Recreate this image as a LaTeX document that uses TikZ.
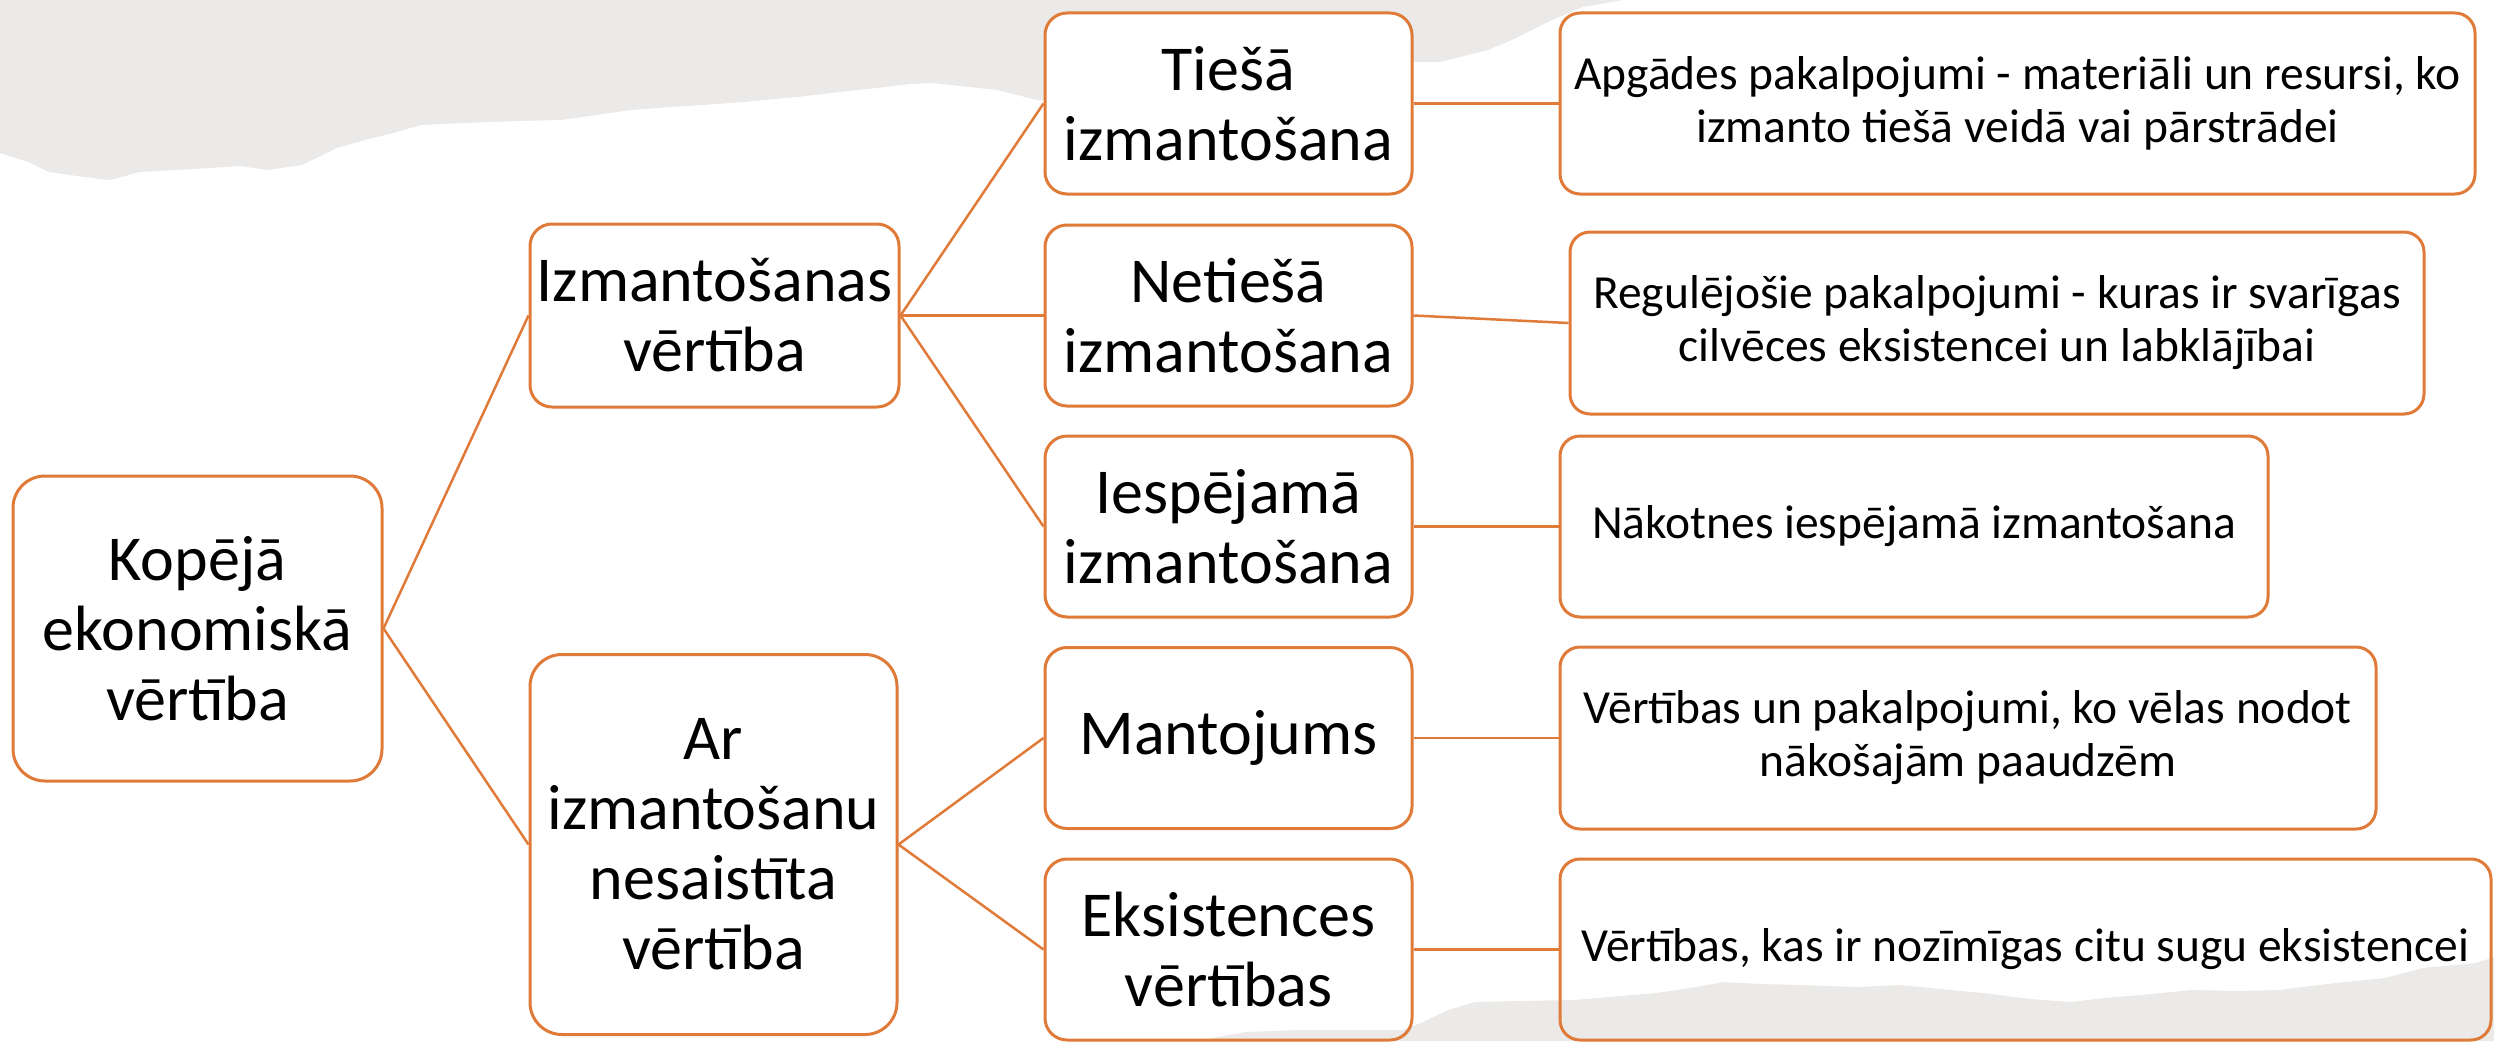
\documentclass[tikz,border=0pt]{standalone}
\usepackage{fontspec}
\setmainfont{Carlito}
\definecolor{org}{HTML}{E07A38}
\definecolor{paper}{HTML}{EBEAE8}
\tikzset{
  boxbase/.style={draw=org, line width=3pt, inner sep=0pt, align=center, text=black, anchor=center},
  bigbox/.style={boxbase, rounded corners=32pt, font=\fontsize{64}{70}\selectfont},
  midbox/.style={boxbase, rounded corners=22pt, font=\fontsize{64}{70}\selectfont},
  smallbox/.style={boxbase, rounded corners=20pt, font=\fontsize{47.5}{53}\selectfont},
  link/.style={draw=org, line width=2.5pt},
}
\begin{document}
\begin{tikzpicture}[x=1pt,y=-1pt]
\useasboundingbox (0,0) rectangle (2494,1041);
% background paper shapes
\fill[paper] (0,0) -- (0,153) -- (28,162) -- (49,172) -- (84,177) -- (110,180) -- (140,172) -- (175,170) -- (210,168) -- (240,166) -- (267,170) -- (302,165) -- (337,148) -- (365,140) -- (393,133) -- (421,125) -- (463,123) -- (520,121) -- (561,120) -- (596,115) -- (631,110) -- (670,107) -- (702,105) -- (744,102) -- (797,97) -- (840,92) -- (877,88) -- (910,84) -- (933,83) -- (960,86) -- (997,90) -- (1037,100) -- (1045,100) -- (1412,62) -- (1440,62) -- (1488,50) -- (1512,40) -- (1552,20) -- (1583,7) -- (1623,0) -- cycle;
\fill[paper] (1180,1041) -- (1207,1039) -- (1245,1032) -- (1298,1030) -- (1402,1030) -- (1421,1023) -- (1448,1010) -- (1475,1002) -- (1520,1001) -- (1574,1000) -- (1620,996) -- (1657,993) -- (1690,988) -- (1724,982) -- (1760,984) -- (1800,985) -- (1858,987) -- (1900,985) -- (1940,989) -- (1983,993) -- (2030,999) -- (2070,1002) -- (2105,998) -- (2140,995) -- (2192,990) -- (2240,991) -- (2279,990) -- (2310,986) -- (2336,983) -- (2385,978) -- (2423,968) -- (2476,963) -- (2494,957) -- (2494,1041) -- cycle;
% nodes
\node[bigbox, minimum width=369pt, minimum height=305pt] (root) at (197.5,628.5) {Kopējā\\ekonomiskā\\vērtība};
\node[midbox, minimum width=369pt, minimum height=183pt] (izm) at (714.5,315.5) {Izmantošanas\\vērtība};
\node[bigbox, minimum width=367pt, minimum height=380pt] (ar) at (713.5,844.5) {Ar\\izmantošanu\\nesaistīta\\vērtība};
\node[midbox, fill=white, minimum width=367pt, minimum height=181pt] (tie) at (1228.5,103.5) {Tiešā\\izmantošana};
\node[midbox, minimum width=367pt, minimum height=181pt] (net) at (1228.5,315.5) {Netiešā\\izmantošana};
\node[midbox, minimum width=367pt, minimum height=181pt] (iesp) at (1228.5,526.5) {Iespējamā\\izmantošana};
\node[midbox, minimum width=367pt, minimum height=181pt] (man) at (1228.5,738) {Mantojums};
\node[midbox, minimum width=367pt, minimum height=181pt] (eks) at (1228.5,949.5) {Eksistences\\vērtības};
\node[smallbox, fill=white, minimum width=915pt, minimum height=181pt] (apg) at (2017.5,103.5) {Apgādes pakalpojumi - materiāli un resursi, ko\\izmanto tiešā veidā vai pārstrādei};
\node[smallbox, minimum width=854pt, minimum height=182pt] (reg) at (1997,323) {Regulējošie pakalpojumi - kuras ir svarīgas\\cilvēces eksistencei un labklājībai};
\node[smallbox, minimum width=708pt, minimum height=181pt] (nak) at (1914,526.5) {Nākotnes iespējamā izmantošana};
\node[smallbox, minimum width=816pt, minimum height=182pt] (vun) at (1968,738) {Vērtības un pakalpojumi, ko vēlas nodot\\nākošajām paaudzēm};
\node[smallbox, minimum width=931pt, minimum height=181pt] (vkas) at (2025.5,949.5) {Vērtības, kas ir nozīmīgas citu sugu eksistencei};
% connectors
\draw[link] (root.east) -- (izm.west);
\draw[link] (root.east) -- (ar.west);
\draw[link] (izm.east) -- (tie.west);
\draw[link] (izm.east) -- (net.west);
\draw[link] (izm.east) -- (iesp.west);
\draw[link] (ar.east) -- (man.west);
\draw[link] (ar.east) -- (eks.west);
\draw[link] (tie.east) -- (apg.west);
\draw[link] (net.east) -- (reg.west);
\draw[link] (iesp.east) -- (nak.west);
\draw[link] (man.east) -- (vun.west);
\draw[link] (eks.east) -- (vkas.west);
\end{tikzpicture}
\end{document}
